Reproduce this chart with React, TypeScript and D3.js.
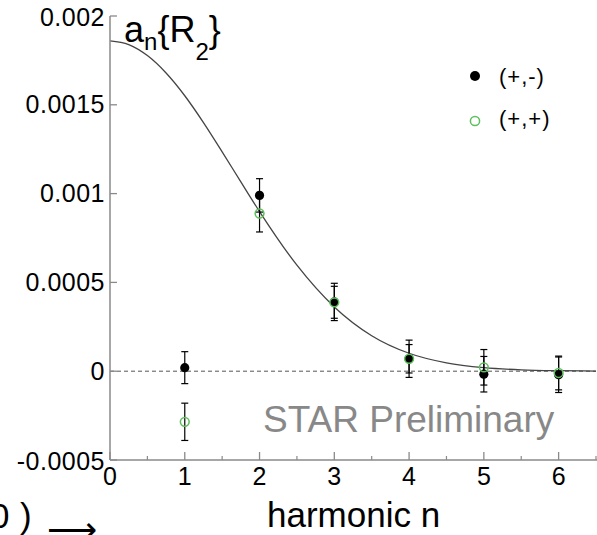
import React from "react";
import * as d3 from "d3";

// Harmonic coefficients a_n{R_2} for the two charge combinations
const harmonics = [1, 2, 3, 4, 5, 6];
const pmValues = [0.00002, 0.00099, 0.00039, 0.00007, -0.000017, -0.00002];
const pmErrors = [0.00009, 0.000094, 0.000105, 0.000105, 0.0001, 0.0001];
const ppValues = [-0.000285, 0.000888, 0.000388, 0.00007, 0.000022, -0.00001];
const ppErrors = [0.000105, 0.000104, 0.00009, 0.00008, 0.0001, 0.000095];

// Fitted curve through the harmonics
const fitN = [0, 0.25, 0.5, 0.75, 1, 1.25, 1.5, 1.75, 2, 2.5, 3, 3.5, 4, 4.5, 5, 5.5, 6, 6.5];
const fitA = [
  0.00186, 0.001839, 0.001777, 0.001679, 0.001551, 0.0014, 0.001235, 0.001066,
  0.000899, 0.000597, 0.000362, 0.0002, 0.000101, 0.000047, 0.00002, 0.0000076,
  0.0000027, 0.0000009,
];

const yTicks = [-0.0005, 0, 0.0005, 0.001, 0.0015, 0.002];
const yTickLabels = ["-0.0005", "0", "0.0005", "0.001", "0.0015", "0.002"];
const xTicks = [0, 1, 2, 3, 4, 5, 6];
const xMinorTicks = [0.5, 1.5, 2.5, 3.5, 4.5, 5.5, 6.5];

const legendItems = ["(+,-)", "(+,+)"];

const W = 597;
const H = 535;
const FONT = "'Liberation Sans', Arial, Helvetica, sans-serif";
const AXIS = "#8a8a8a";
const GREEN = "#5cbf5c";

export default function App() {
  const x = d3.scaleLinear().domain([0, 6.5]).range([110, 596]);
  const y = d3.scaleLinear().domain([-0.0005, 0.002]).range([460, 16]);

  const fitLine = d3
    .line<number>()
    .x((_, i) => x(fitN[i]))
    .y((d) => y(d))
    .curve(d3.curveMonotoneX);

  const errorBar = (n: number, v: number, e: number, key: string) => (
    <g key={key} stroke="#000" strokeWidth={1.2}>
      <line x1={x(n)} x2={x(n)} y1={y(v + e)} y2={y(v - e)} />
      <line x1={x(n) - 3.5} x2={x(n) + 3.5} y1={y(v + e)} y2={y(v + e)} />
      <line x1={x(n) - 3.5} x2={x(n) + 3.5} y1={y(v - e)} y2={y(v - e)} />
    </g>
  );

  return (
    <svg
      width={W}
      height={H}
      style={{ position: "absolute", left: 0, top: 0, background: "#fff" }}
      fontFamily={FONT}
    >
      {/* zero reference line */}
      <line
        x1={x(0)}
        x2={x(6.5)}
        y1={y(0)}
        y2={y(0)}
        stroke="#555"
        strokeWidth={1}
        strokeDasharray="4,3"
      />

      {/* fit curve */}
      <path d={fitLine(fitA) || ""} fill="none" stroke="#444" strokeWidth={1.3} />

      {/* watermark */}
      <text x={263} y={432} fontSize={37} fill="#888">
        STAR Preliminary
      </text>

      {/* error bars */}
      {harmonics.map((n, i) => errorBar(n, ppValues[i], ppErrors[i], "pp" + i))}
      {harmonics.map((n, i) => errorBar(n, pmValues[i], pmErrors[i], "pm" + i))}

      {/* (+,-) points */}
      {harmonics.map((n, i) => (
        <circle key={"pmc" + i} cx={x(n)} cy={y(pmValues[i])} r={4.6} fill="#000" />
      ))}
      {/* (+,+) points */}
      {harmonics.map((n, i) => (
        <circle
          key={"ppc" + i}
          cx={x(n)}
          cy={y(ppValues[i])}
          r={4.4}
          fill="none"
          stroke={GREEN}
          strokeWidth={1.5}
        />
      ))}

      {/* axes */}
      <line x1={x(0)} x2={x(0)} y1={y(0.002)} y2={y(-0.0005)} stroke={AXIS} strokeWidth={1.5} />
      <line x1={x(0)} x2={W} y1={y(-0.0005)} y2={y(-0.0005)} stroke={AXIS} strokeWidth={1.5} />
      {yTicks.map((t, i) => (
        <g key={"yt" + i}>
          <line x1={x(0)} x2={x(0) + 7} y1={y(t)} y2={y(t)} stroke={AXIS} strokeWidth={1.3} />
          <text
            x={105}
            y={y(t) + (i === yTicks.length - 1 ? 10 : i === 0 ? 10 : 8.5)}
            fontSize={25}
            letterSpacing={0.5}
            textAnchor="end"
            fill="#000"
          >
            {yTickLabels[i]}
          </text>
        </g>
      ))}
      {xTicks.map((t) => (
        <g key={"xt" + t}>
          <line x1={x(t)} x2={x(t)} y1={y(-0.0005)} y2={y(-0.0005) - 8} stroke={AXIS} strokeWidth={1.3} />
          <text x={x(t)} y={485} fontSize={25} textAnchor="middle" fill="#000">
            {t}
          </text>
        </g>
      ))}
      {xMinorTicks.map((t) => (
        <line
          key={"xm" + t}
          x1={x(t)}
          x2={x(t)}
          y1={y(-0.0005)}
          y2={y(-0.0005) - 4}
          stroke={AXIS}
          strokeWidth={1.2}
        />
      ))}

      {/* axis title */}
      <text x={267} y={527} fontSize={35} fill="#000">
        harmonic n
      </text>

      {/* quantity label */}
      <text x={124} y={42} fontSize={36} fill="#000">
        a
        <tspan fontSize={24} dy={8}>n</tspan>
        <tspan fontSize={36} dy={-8}>{"{R"}</tspan>
        <tspan fontSize={24} dy={18}>2</tspan>
        <tspan fontSize={36} dy={-18}>{"}"}</tspan>
      </text>

      {/* legend */}
      <circle cx={475} cy={76} r={5} fill="#000" />
      <text x={499} y={84} fontSize={22} letterSpacing={1} fill="#000">
        {legendItems[0]}
      </text>
      <circle cx={475} cy={121} r={4.6} fill="none" stroke={GREEN} strokeWidth={1.5} />
      <text x={499} y={126} fontSize={22} letterSpacing={1} fill="#000">
        {legendItems[1]}
      </text>

      {/* neighbouring axis label, clipped at the left edge */}
      <text fontSize={35} fill="#000">
        <tspan x={-10} y={528}>0</tspan>
        <tspan x={20} y={528}>)</tspan>
        <tspan x={47} y={542}>⟶</tspan>
      </text>
    </svg>
  );
}
